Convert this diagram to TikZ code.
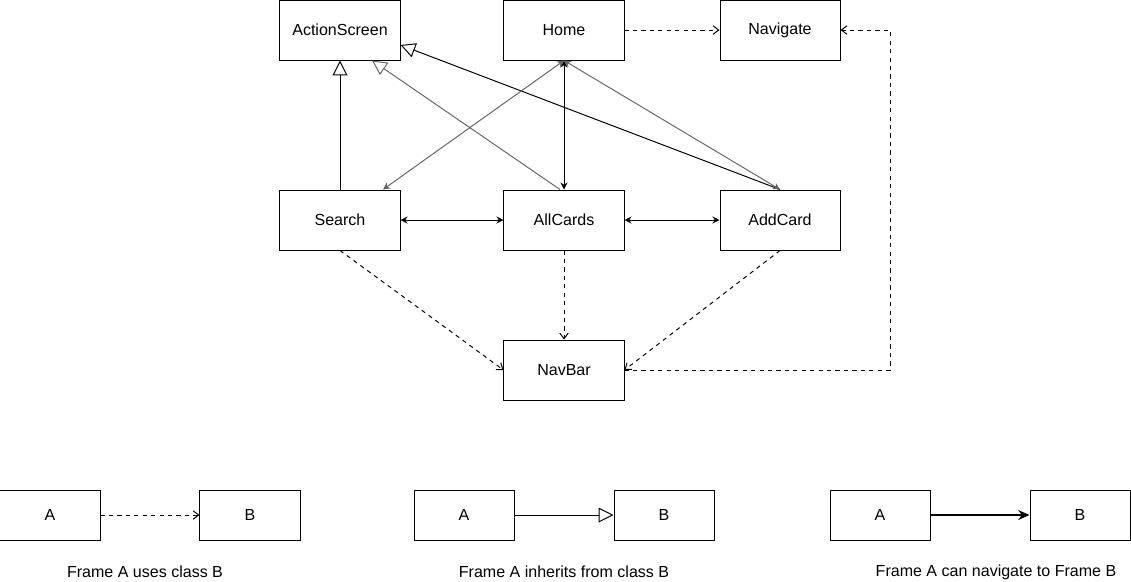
\documentclass[tikz,border=0pt]{standalone}
\usepackage{fontspec}
\setmainfont{Liberation Sans}
\usetikzlibrary{arrows.meta}
\tikzset{
    uses/.style={dashed,-{Straight Barb[length=4pt,width=6pt]}},
    inherits/.style={-{Triangle[open,length=10.5pt,width=10.5pt]}},
    goes/.style={{Stealth[length=5pt,width=5pt]}-{Stealth[length=5pt,width=5pt]}},
    navto/.style={line width=1pt,-{Stealth[length=8pt,width=7pt]}},
}
\begin{document}
\begin{tikzpicture}[x=0.025cm,y=-0.025cm,line width=0.7pt,font=\fontsize{11.4pt}{13pt}\selectfont]
            \useasboundingbox (0,0) rectangle (1131,581);
            \begin{scope}[every node/.style={draw,rectangle,minimum width=3cm,minimum height=1.5cm,line width=0.7pt}]
                \node (as) at (340,30) {ActionScreen};
                \node (home) at (564,30) {Home};
                \node (nav) at (780,30) {Navigate};
                \node (search) at (340,220) {Search};
                \node (all) at (564,220) {AllCards};
                \node (add) at (780,220) {AddCard};
                \node (bar) at (564,370) {NavBar};
            \end{scope}
            \begin{scope}[every node/.style={draw,rectangle,minimum width=2.5cm,minimum height=1.25cm,line width=0.7pt}]
                \node (a1) at (50,515) {A};
                \node (b1) at (250,515) {B};
                \node (a2) at (464,515) {A};
                \node (b2) at (664,515) {B};
                \node (a3) at (880,515) {A};
                \node (b3) at (1080,515) {B};
            \end{scope}
            \node (t1) at (145,572) {Frame A uses class B};
            \node (t2) at (564,572) {Frame A inherits from class B};
            \node (t3) at (996,572) {Frame A can navigate to Frame B};
            \coordinate (corner) at (890,30);
            \path
                (home) edge [uses] (nav)
                (search) edge [inherits] (as)
                ([xshift=-0.1cm]all.north) edge [inherits,black!60] ([xshift=0.8cm]as.south)
                (add.north) edge [inherits] ([yshift=-0.375cm]as.east)
                (home) edge [goes] (all)
                (home.south) edge [goes,black!60] ([xshift=1.075cm]search.north)
                (home.south) edge [goes,black!60] (add.north)
                (search) edge [goes] (all)
                (all) edge [goes] (add)
                (search.south) edge [uses] (bar.west)
                (all) edge [uses] (bar)
                (add.south) edge [uses] (bar.east)
                (a1) edge [uses] (b1)
                (a2) edge [inherits] (b2)
                (a3) edge [navto] (b3);
            \draw [uses] (bar.east) -| (corner) -- (nav.east);
        \end{tikzpicture}
\end{document}
